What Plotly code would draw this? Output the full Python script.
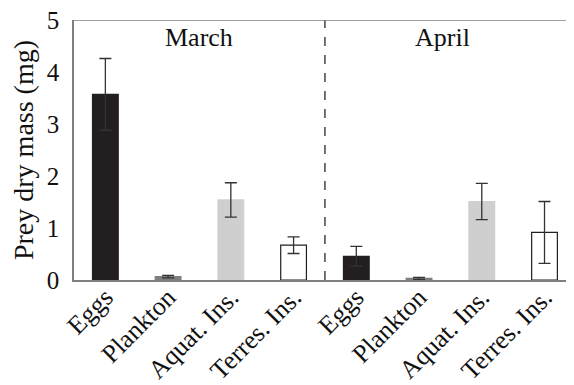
import plotly.graph_objects as go

categories = ["Eggs", "Plankton", "Aquat. Ins.", "Terres. Ins.",
              "Eggs", "Plankton", "Aquat. Ins.", "Terres. Ins."]
values = [3.57, 0.065, 1.54, 0.67, 0.455, 0.03, 1.51, 0.915]
errors = [0.69, 0.025, 0.33, 0.16, 0.19, 0.02, 0.35, 0.595]
months = ["March", "April"]
yticks = [0, 1, 2, 3, 4, 5]

fills = ["#231f20", "#7f7f7f", "#cfcfcf", "#ffffff"] * 2
outlines = ["#231f20", "#7f7f7f", "#cfcfcf", "#231f20"] * 2

xpos = list(range(len(categories)))
font = "Liberation Serif"

fig = go.Figure()
fig.add_trace(go.Bar(
    x=xpos, y=values, width=0.41,
    marker=dict(color=fills, line=dict(color=outlines, width=1.2)),
    error_y=dict(type="data", array=errors, visible=True,
                 color="#333333", thickness=1.3, width=6),
))

fig.add_shape(type="line", x0=3.5, x1=3.5, y0=0, y1=5, xref="x", yref="y",
              line=dict(color="#444444", width=1.5, dash="dash"))
fig.add_shape(type="line", x0=-0.5, x1=7.6, y0=5, y1=5, xref="x", yref="y",
              line=dict(color="#808080", width=1.5))

for m, xm in zip(months, [1.5, 5.37]):
    fig.add_annotation(x=xm, y=4.67, text=m, showarrow=False,
                       font=dict(family=font, size=26, color="#111111"))

fig.update_layout(
    width=566, height=377,
    margin=dict(l=66, r=0, t=12, b=105, autoexpand=False),
    plot_bgcolor="white", paper_bgcolor="white",
    showlegend=False,
    font=dict(family=font, color="#111111"),
    xaxis=dict(range=[-0.5, 7.47], tickmode="array", tickvals=xpos,
               ticktext=categories, tickangle=-45, showgrid=False,
               showline=True, linecolor="#808080", linewidth=1.5,
               ticks="", automargin=False, ticklabeloverflow="allow",
               ticklabelstandoff=-10,
               tickfont=dict(family=font, size=26, color="#111111"),
               zeroline=False),
    yaxis=dict(range=[0, 5], tickvals=yticks, showgrid=False,
               showline=True, linecolor="#808080", linewidth=1.5,
               ticks="", zeroline=False, automargin=False,
               ticklabeloverflow="allow", ticklabelstandoff=8,
               tickfont=dict(family=font, size=25, color="#111111"),
               title=dict(text="Prey dry mass (mg)", standoff=6,
                          font=dict(family=font, size=28, color="#111111"))),
)

fig.write_html("out.html")
